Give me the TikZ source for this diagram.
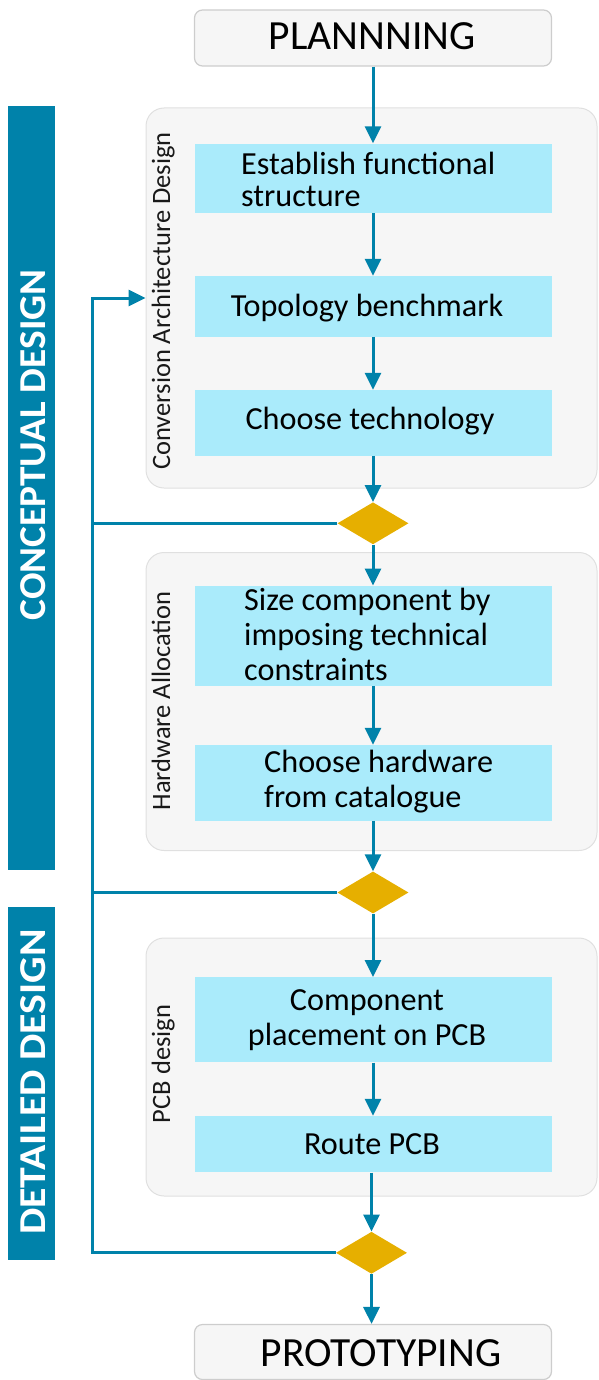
\documentclass[tikz,border=0pt]{standalone}
\usepackage{fontspec}
\setmainfont{Carlito}
\usetikzlibrary{arrows.meta,shapes.geometric}
\definecolor{flowblue}{RGB}{0,130,170}
\definecolor{stepfill}{RGB}{170,235,251}
\definecolor{groupfill}{RGB}{246,246,246}
\definecolor{groupline}{RGB}{224,224,224}
\definecolor{gold}{RGB}{230,175,0}
\definecolor{termline}{RGB}{205,205,205}
\newcommand\stepfont{\fontsize{32.2}{35}\selectfont}
\newcommand\termfont{\fontsize{41.5}{45}\selectfont}
\newcommand\grpfont{\fontsize{26.5}{30}\selectfont}
\newcommand\barfont{\fontsize{38}{42}\selectfont\bfseries}
\begin{document}
\begin{tikzpicture}[x=1pt,y=1pt,
  stepbox/.style={fill=stepfill, draw=none, minimum width=357pt, inner sep=0pt},
  termbox/.style={fill=groupfill, draw=termline, line width=1.2pt, rounded corners=8pt, minimum width=357pt, inner sep=0pt},
  group/.style={fill=groupfill, draw=groupline, line width=1pt, rounded corners=18pt, inner sep=0pt},
  decision/.style={diamond, fill=gold, draw=none, minimum width=71pt, minimum height=42pt, inner sep=0pt, aspect=1.69},
  phasebar/.style={fill=flowblue, draw=none, minimum width=47.5pt, inner sep=0pt},
  flow/.style={draw=flowblue, line width=3pt, -{Triangle[width=16pt,length=17pt]}},
  fline/.style={draw=flowblue, line width=3pt},
  txt/.style={inner sep=0pt, text=black},
  grplabel/.style={inner sep=0pt, rotate=90, anchor=base, text=black!90},
  barlabel/.style={inner sep=0pt, rotate=90, anchor=base, text=white}
]
\useasboundingbox (0,0) rectangle (598,-1380);

% phase bars
\node[phasebar, minimum height=764pt] (bar1) at (31.25,-488) {};
\node[phasebar, minimum height=353pt] (bar2) at (31.25,-1083.5) {};
\node[barlabel] (bl1) at (45.5,-445) {\barfont\scalebox{1.035}[1]{CONCEPTUAL DESIGN}};
\node[barlabel] (bl2) at (45.5,-1082) {\barfont\scalebox{1.1}[1]{DETAILED DESIGN}};

% groups
\node[group, minimum width=451pt, minimum height=380pt] (g1) at (371.5,-298) {};
\node[group, minimum width=451pt, minimum height=298pt] (g2) at (371.5,-701.5) {};
\node[group, minimum width=451pt, minimum height=258pt] (g3) at (371.5,-1067) {};
\node[grplabel] (gl1) at (170,-301) {\grpfont Conversion Architecture Design};
\node[grplabel] (gl2) at (170,-701) {\grpfont Hardware Allocation};
\node[grplabel] (gl3) at (170,-1064) {\grpfont PCB design};

% start / end
\node[termbox, minimum height=56pt] (plan) at (373,-38) {};
\node[txt, anchor=base] (plant) at (372,-49.3) {\termfont PLANNNING};
\node[termbox, minimum height=55pt] (proto) at (373,-1352) {};
\node[txt, anchor=base] (protot) at (381,-1366) {\termfont PROTOTYPING};

% steps
\node[stepbox, minimum height=69.5pt] (b1) at (373,-178.3) {};
\node[stepbox, minimum height=60.7pt] (b2) at (373,-306.3) {};
\node[stepbox, minimum height=65.7pt] (b3) at (373,-422.8) {};
\node[stepbox, minimum height=100pt] (b4) at (373,-635.7) {};
\node[stepbox, minimum height=75.7pt] (b5) at (373,-782.9) {};
\node[stepbox, minimum height=85pt] (b6) at (373,-1019.8) {};
\node[stepbox, minimum height=56.3pt] (b7) at (373,-1144.2) {};

\node[txt, anchor=base west] (t1) at (241,-174.3) {\fontsize{32.2}{32.4}\selectfont\begin{tabular}[t]{@{}l@{}}Establish functional\\structure\end{tabular}};
\node[txt, anchor=base] (t2) at (367,-316) {\stepfont Topology benchmark};
\node[txt, anchor=base] (t3) at (370,-429) {\stepfont Choose technology};
\node[txt, anchor=base west] (t4) at (244,-610.7) {\stepfont\begin{tabular}[t]{@{}l@{}}Size component by\\imposing technical\\constraints\end{tabular}};
\node[txt, anchor=base west] (t5) at (264,-772.3) {\stepfont\begin{tabular}[t]{@{}l@{}}Choose hardware\\from catalogue\end{tabular}};
\node[txt, anchor=base] (t6) at (367,-1010.7) {\stepfont\begin{tabular}[t]{@{}c@{}}Component\\placement on PCB\end{tabular}};
\node[txt, anchor=base] (t7) at (372,-1154) {\stepfont Route PCB};

% decisions
\node[decision] (d1) at (373,-523.3) {};
\node[decision] (d2) at (373,-892.5) {};
\node[decision] (d3) at (371.5,-1252.8) {};

% feedback path coordinates
\coordinate (fbtop) at (92,-298);

% main flow
\draw[flow] (plan) -- (b1);
\draw[flow] (b1) -- (b2);
\draw[flow] (b2) -- (b3);
\draw[flow] (b3) -- (d1);
\draw[flow] (d1) -- (b4);
\draw[flow] (b4) -- (b5);
\draw[flow] (b5) -- (d2);
\draw[flow] (d2) -- (b6);
\draw[flow] (b6) -- (b7);
\draw[flow] (b7.south -| d3) -- (d3);
\draw[flow] (d3) -- (d3 |- proto.north);

% feedback
\draw[fline] (d1.west) -- (d1.west -| fbtop);
\draw[fline] (d2.west) -- (d2.west -| fbtop);
\draw[flow, line join=miter] (d3.west) -- (d3.west -| fbtop) -- (fbtop) -- (fbtop -| g1.west);
\end{tikzpicture}
\end{document}
